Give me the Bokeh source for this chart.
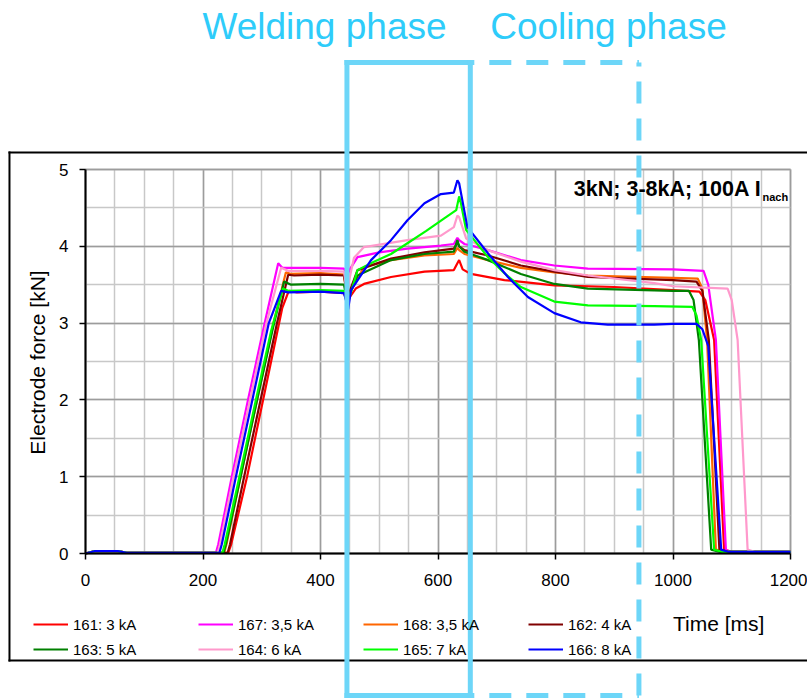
import math
from bokeh.plotting import figure
from bokeh.models import (Legend, LegendItem, Label, Arrow, SingleIntervalTicker,
                          BoxAnnotation, Range1d, Grid)
from bokeh.embed import file_html
from bokeh.resources import INLINE

FONT = "Liberation Sans"

# ---------------- data ----------------
labels = ["161: 3 kA", "167: 3,5 kA", "168: 3,5 kA", "162: 4 kA",
          "163: 5 kA", "164: 6 kA", "165: 7 kA", "166: 8 kA"]
colors = ["#FF0000", "#FF00FF", "#FF6600", "#800000",
          "#008000", "#FF99CC", "#00FF00", "#0000FF"]

t161 = [0, 15, 55, 70, 243, 248, 275, 305, 335, 346, 360, 400, 440, 445, 448, 460, 474, 520, 577, 627, 633, 636, 642, 656, 713, 798, 900, 1000, 1045, 1055, 1070, 1087, 1100, 1200]
f161 = [0, 0.03, 0.03, 0.01, 0.01, 0.12, 1.0, 2.1, 3.2, 3.42, 3.4, 3.41, 3.39, 3.28, 3.32, 3.45, 3.51, 3.6, 3.67, 3.69, 3.78, 3.82, 3.7, 3.64, 3.56, 3.49, 3.47, 3.43, 3.41, 3.3, 2.78, 0.05, 0.02, 0.02]

t167 = [0, 15, 55, 70, 222, 226, 249, 278, 305, 328, 335, 400, 440, 445, 450, 463, 500, 548, 605, 627, 633, 636, 645, 656, 685, 741, 798, 855, 1000, 1052, 1060, 1073, 1090, 1100, 1200]
f167 = [0, 0.03, 0.03, 0.01, 0.01, 0.12, 1.0, 2.05, 3.0, 3.78, 3.72, 3.72, 3.71, 3.62, 3.7, 3.86, 3.92, 3.97, 4.01, 4.03, 4.11, 4.08, 4.03, 4.01, 3.95, 3.82, 3.75, 3.71, 3.7, 3.68, 3.5, 2.78, 0.05, 0.02, 0.02]

t168 = [0, 15, 55, 70, 236, 240, 264, 292, 320, 341, 350, 400, 440, 445, 450, 474, 520, 577, 627, 633, 636, 645, 685, 741, 798, 855, 1000, 1042, 1050, 1058, 1073, 1090, 1200]
f168 = [0, 0.03, 0.03, 0.01, 0.01, 0.12, 1.0, 2.0, 3.0, 3.66, 3.64, 3.65, 3.63, 3.35, 3.4, 3.73, 3.82, 3.88, 3.9, 3.98, 3.95, 3.9, 3.82, 3.72, 3.66, 3.62, 3.59, 3.58, 3.45, 2.78, 0.05, 0.02, 0.02]

t162 = [0, 15, 55, 70, 242, 246, 270, 298, 326, 345, 355, 400, 440, 445, 450, 463, 520, 577, 627, 633, 636, 645, 685, 741, 798, 855, 1000, 1040, 1050, 1061, 1079, 1095, 1200]
f162 = [0, 0.03, 0.03, 0.01, 0.01, 0.12, 1.0, 2.0, 3.0, 3.63, 3.62, 3.63, 3.62, 3.35, 3.42, 3.69, 3.84, 3.92, 3.97, 4.05, 4.0, 3.95, 3.88, 3.75, 3.67, 3.6, 3.56, 3.54, 3.42, 2.78, 0.05, 0.02, 0.02]

t163 = [0, 15, 55, 70, 235, 239, 264, 292, 318, 338, 350, 400, 440, 445, 450, 463, 520, 577, 627, 633, 636, 645, 685, 741, 798, 855, 1000, 1027, 1035, 1044, 1065, 1080, 1200]
f163 = [0, 0.03, 0.03, 0.01, 0.01, 0.12, 1.0, 2.0, 2.9, 3.54, 3.5, 3.51, 3.5, 3.3, 3.38, 3.62, 3.82, 3.9, 3.93, 4.08, 4.0, 3.93, 3.82, 3.64, 3.51, 3.45, 3.42, 3.42, 3.3, 2.78, 0.05, 0.02, 0.02]

t164 = [0, 15, 55, 70, 225, 229, 252, 280, 308, 333, 345, 400, 440, 445, 450, 457, 474, 548, 605, 627, 633, 636, 648, 685, 741, 798, 855, 968, 1000, 1093, 1100, 1110, 1127, 1140, 1200]
f164 = [0, 0.03, 0.03, 0.01, 0.01, 0.12, 1.0, 2.0, 3.0, 3.72, 3.68, 3.68, 3.67, 3.4, 3.6, 3.85, 3.99, 4.08, 4.14, 4.25, 4.4, 4.38, 4.1, 3.95, 3.8, 3.69, 3.62, 3.52, 3.48, 3.45, 3.3, 2.78, 0.05, 0.02, 0.02]

t165 = [0, 15, 55, 70, 233, 237, 262, 290, 316, 336, 345, 400, 440, 445, 448, 463, 491, 520, 548, 580, 610, 631, 636, 639, 648, 685, 713, 741, 798, 855, 968, 1033, 1040, 1048, 1070, 1085, 1200]
f165 = [0, 0.03, 0.03, 0.01, 0.01, 0.12, 1.0, 2.0, 2.9, 3.45, 3.42, 3.43, 3.42, 3.25, 3.3, 3.69, 3.8, 3.9, 4.04, 4.2, 4.36, 4.47, 4.65, 4.56, 4.21, 3.86, 3.65, 3.47, 3.28, 3.23, 3.22, 3.21, 3.1, 2.78, 0.05, 0.02, 0.02]

t166 = [0, 15, 55, 70, 228, 232, 256, 284, 312, 333, 345, 400, 440, 445, 447, 452, 486, 520, 548, 577, 605, 627, 633, 636, 650, 685, 719, 753, 798, 843, 889, 968, 1000, 1040, 1050, 1060, 1082, 1095, 1200]
f166 = [0, 0.03, 0.03, 0.01, 0.01, 0.12, 1.0, 2.0, 3.0, 3.42, 3.4, 3.41, 3.39, 3.25, 3.18, 3.43, 3.82, 4.08, 4.34, 4.56, 4.68, 4.7, 4.86, 4.82, 4.25, 3.91, 3.6, 3.34, 3.13, 3.01, 2.98, 2.98, 2.99, 2.99, 2.92, 2.7, 0.05, 0.02, 0.02]

times = [t161, t167, t168, t162, t163, t164, t165, t166]
forces = [f161, f167, f168, f162, f163, f164, f165, f166]

# axis extents and grid spacing
X_MIN, X_MAX, X_MAJOR, X_MINOR = 0, 1200, 200, 50
Y_MIN, Y_MAX, Y_MAJOR, Y_MINOR = 0, 5, 1, 0.5

# phase boundaries (ms) and annotation texts
WELD_START, WELD_END, COOL_END = 445, 655, 942
title_weld = "Welding phase"
title_cool = "Cooling phase"
note_main = "3kN; 3-8kA; 100A I"
note_sub = "nach"
x_title = "Time [ms]"
y_title = "Electrode force [kN]"

# ---------------- figure ----------------
# whole canvas is the frame; the data box 0..1200 x 0..5 sits at px (85..790, 553..169)
W, H = 807, 698
SX, SY = 705 / 1200, 384 / 5
x_range = Range1d(-85 / SX, (W - 85) / SX)
y_range = Range1d(-(H - 553) / SY, 553 / SY)

p = figure(width=W, height=H, x_range=x_range, y_range=y_range,
           output_backend="svg", toolbar_location=None,
           min_border=0, min_border_left=0, min_border_right=0,
           min_border_top=0, min_border_bottom=0)
p.background_fill_color = "white"
p.border_fill_color = "white"
p.outline_line_color = None

xt = SingleIntervalTicker(interval=X_MAJOR, num_minor_ticks=int(X_MAJOR / X_MINOR))
yt = SingleIntervalTicker(interval=Y_MAJOR, num_minor_ticks=int(Y_MAJOR / Y_MINOR))
p.xaxis.ticker = xt
p.yaxis.ticker = yt

GRID_MAJOR = "#9c9c9c"
GRID_MINOR = "#c8c8c8"
has_cross = "cross_bounds" in Grid.properties()
if has_cross:
    p.xgrid.ticker = xt
    p.ygrid.ticker = yt
    p.xgrid.bounds = (X_MIN, X_MAX)
    p.xgrid.cross_bounds = (Y_MIN, Y_MAX)
    p.ygrid.bounds = (Y_MIN, Y_MAX)
    p.ygrid.cross_bounds = (X_MIN, X_MAX)
    for g in (p.xgrid, p.ygrid):
        g.grid_line_color = GRID_MAJOR
        g.grid_line_width = 1.5
        g.minor_grid_line_color = GRID_MINOR
        g.minor_grid_line_width = 1.5
else:
    p.xgrid.visible = False
    p.ygrid.visible = False
    xs_minor = [X_MIN + i * X_MINOR for i in range(int((X_MAX - X_MIN) / X_MINOR) + 1)]
    ys_minor = [Y_MIN + i * Y_MINOR for i in range(int((Y_MAX - Y_MIN) / Y_MINOR) + 1)]
    xs_major = [v for v in xs_minor if v % X_MAJOR == 0]
    ys_major = [v for v in ys_minor if v % Y_MAJOR == 0]
    p.segment(x0=xs_minor, y0=[Y_MIN] * len(xs_minor), x1=xs_minor, y1=[Y_MAX] * len(xs_minor),
              line_color=GRID_MINOR, line_width=1.5)
    p.segment(x0=[X_MIN] * len(ys_minor), y0=ys_minor, x1=[X_MAX] * len(ys_minor), y1=ys_minor,
              line_color=GRID_MINOR, line_width=1.5)
    p.segment(x0=xs_major, y0=[Y_MIN] * len(xs_major), x1=xs_major, y1=[Y_MAX] * len(xs_major),
              line_color=GRID_MAJOR, line_width=1.5)
    p.segment(x0=[X_MIN] * len(ys_major), y0=ys_major, x1=[X_MAX] * len(ys_major), y1=ys_major,
              line_color=GRID_MAJOR, line_width=1.5)

# plot area border
p.add_layout(BoxAnnotation(left=X_MIN, right=X_MAX, bottom=Y_MIN, top=Y_MAX,
                           fill_alpha=0, line_color="#9c9c9c", line_width=2, level="underlay"))

p.xaxis.fixed_location = 0
p.yaxis.fixed_location = 0
p.xaxis.bounds = (X_MIN, X_MAX)
p.yaxis.bounds = (Y_MIN, Y_MAX)
for ax in (p.xaxis, p.yaxis):
    ax.axis_line_color = "black"
    ax.axis_line_width = 2
    ax.major_tick_line_color = "black"
    ax.major_tick_line_width = 1.5
    ax.major_tick_out = 6
    ax.major_tick_in = 0
    ax.minor_tick_line_color = None
    ax.major_label_text_font = FONT
    ax.major_label_text_font_size = "17px"
    ax.major_label_text_color = "black"
p.xaxis.major_label_standoff = 14
p.yaxis.major_label_standoff = 11

items = []
for t, f, c, lab in zip(times, forces, colors, labels):
    r = p.line(t, f, line_color=c, line_width=2.2)
    items.append(LegendItem(label=lab, renderers=[r]))

legend = Legend(items=items, location=(33, 39), orientation="horizontal", ncols=4,
                glyph_width=35, glyph_height=20, label_standoff=5, label_width=120,
                label_height=20, spacing=5, padding=0, margin=0,
                border_line_color=None, background_fill_alpha=0,
                label_text_font=FONT, label_text_font_size="15px", label_text_color="black")
p.add_layout(legend)

# outer black frame
XL, XR = -129.4, 1234
YT, YB = 5.221, -1.393
for xs, ys, xe, ye in [(XL, YT, XR, YT), (XL, YT, XL, YB), (XL, YB, XR, YB)]:
    p.add_layout(Arrow(start=None, end=None, x_start=xs, y_start=ys, x_end=xe, y_end=ye,
                       line_color="black", line_width=2, line_cap="square"))

# text labels (positions in data units; texts centred vertically)
p.add_layout(Label(x=-81.7, y=2.487, text=y_title, angle=math.pi / 2, text_align="center",
                   text_baseline="middle", text_font=FONT, text_font_size="21px", text_color="black"))
p.add_layout(Label(x=1150.6, y=4.743, text=note_main, text_align="right", text_baseline="middle",
                   text_font=FONT, text_font_size="21.5px", text_font_style="bold", text_color="black"))
p.add_layout(Label(x=1152.3, y=4.639, text=note_sub, text_align="left", text_baseline="middle",
                   text_font=FONT, text_font_size="11px", text_font_style="bold", text_color="black"))
p.add_layout(Label(x=1000.0, y=-0.911, text=x_title, text_align="left", text_baseline="middle",
                   text_font=FONT, text_font_size="21px", text_color="black"))

BLUE_T = "#2ECCFA"
BLUE_L = "#6DD6F8"
p.add_layout(Label(x=406.8, y=6.862, text=title_weld, text_align="center", text_baseline="middle",
                   text_font=FONT, text_font_size="37px", text_color=BLUE_T))
p.add_layout(Label(x=890.2, y=6.862, text=title_cool, text_align="center", text_baseline="middle",
                   text_font=FONT, text_font_size="37px", text_color=BLUE_T))

TOP, BOT = 6.393, -1.849
for xs, ys, xe, ye in [(WELD_START, TOP, WELD_END, TOP), (WELD_END, TOP, WELD_END, BOT),
                       (WELD_END, BOT, WELD_START, BOT), (WELD_START, BOT, WELD_START, TOP)]:
    p.add_layout(Arrow(start=None, end=None, x_start=xs, y_start=ys, x_end=xe, y_end=ye,
                       line_color=BLUE_L, line_width=5, line_cap="square"))
for xs, ys, xe, ye in [(WELD_END, TOP, COOL_END, TOP), (COOL_END, TOP, COOL_END, BOT),
                       (WELD_END, BOT, COOL_END, BOT)]:
    p.add_layout(Arrow(start=None, end=None, x_start=xs, y_start=ys, x_end=xe, y_end=ye,
                       line_color=BLUE_L, line_width=5, line_dash="22 15", line_dash_offset=18))

open("out.html", "w").write(file_html(p, INLINE))
